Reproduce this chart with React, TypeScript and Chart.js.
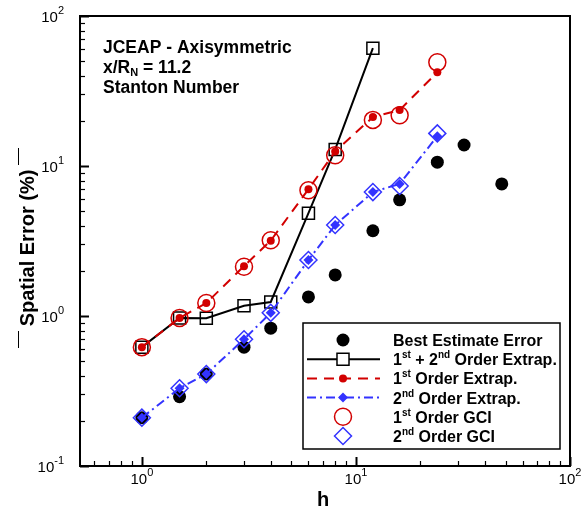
import React, { useEffect, useRef } from 'react';
import { Chart, registerables } from 'chart.js';

Chart.register(...registerables);

// ---------- data ----------
const hBest = [1, 1.5, 2, 3, 4, 6, 8, 12, 16, 24, 32, 48];
const bestEstimateError = [0.21, 0.29, 0.41, 0.62, 0.83, 1.34, 1.88, 3.7, 5.95, 10.6, 13.8, 7.6];

const hCombined = [1, 1.5, 2, 3, 4, 6, 8, 12];
const combinedExtrap = [0.62, 0.97, 0.965, 1.17, 1.24, 4.85, 12.9, 61];

const hOrder = [1, 1.5, 2, 3, 4, 6, 8, 12, 16, 24];
const firstOrderExtrap = [0.62, 0.97, 1.22, 2.15, 3.18, 7.0, 12.5, 21.2, 23.6, 42.2];
const secondOrderExtrap = [0.21, 0.33, 0.41, 0.7, 1.05, 2.36, 4.04, 6.7, 7.6, 15.8];
const firstOrderGCI = [0.62, 0.97, 1.22, 2.13, 3.2, 6.9, 11.8, 20.3, 21.8, 49.1];
const secondOrderGCI = [0.21, 0.33, 0.41, 0.7, 1.05, 2.36, 4.04, 6.7, 7.35, 16.5];

const xTickValues = [1, 10, 100];
const xTickExps = ['0', '1', '2'];
const yTickValues = [0.1, 1, 10, 100];
const yTickExps = ['-1', '0', '1', '2'];

const X_MIN = 0.514;
const X_MAX = 100;
const Y_MIN = 0.1;
const Y_MAX = 100;

// ---------- style ----------
const RED = 'rgb(210,0,0)';
const BLUE = 'rgb(51,51,255)';
const FONT = "'Liberation Sans', Arial, Helvetica, sans-serif";
const RED_DASH = [10, 7];
const BLUE_DASH = [9, 4, 2, 4];

const zip = (xs: number[], ys: number[]) => ys.map((v, i) => ({ x: xs[i], y: v }));

type Seg = { t: string; size: number; dy: number };

function richWidth(ctx: CanvasRenderingContext2D, segs: Seg[], bold: boolean) {
  let w = 0;
  for (const s of segs) {
    ctx.font = `${bold ? 'bold ' : ''}${s.size}px ${FONT}`;
    w += ctx.measureText(s.t).width;
  }
  return w;
}

function drawRich(
  ctx: CanvasRenderingContext2D,
  segs: Seg[],
  x: number,
  y: number,
  align: 'left' | 'center' | 'right',
  bold: boolean
) {
  const w = richWidth(ctx, segs, bold);
  let cx = align === 'left' ? x : align === 'center' ? x - w / 2 : x - w;
  ctx.textAlign = 'left';
  ctx.textBaseline = 'alphabetic';
  for (const s of segs) {
    ctx.font = `${bold ? 'bold ' : ''}${s.size}px ${FONT}`;
    ctx.fillText(s.t, cx, y + s.dy);
    cx += ctx.measureText(s.t).width;
  }
}

function marker(
  ctx: CanvasRenderingContext2D,
  style: string,
  x: number,
  y: number,
  r: number,
  fill: string | null,
  stroke: string | null,
  lw: number
) {
  ctx.beginPath();
  if (style === 'circle') {
    ctx.arc(x, y, r, 0, Math.PI * 2);
  } else if (style === 'rect') {
    const s = Math.SQRT1_2 * r;
    ctx.rect(x - s, y - s, 2 * s, 2 * s);
  } else if (style === 'rectRot') {
    ctx.moveTo(x - r, y);
    ctx.lineTo(x, y - r);
    ctx.lineTo(x + r, y);
    ctx.lineTo(x, y + r);
    ctx.closePath();
  }
  if (fill) {
    ctx.fillStyle = fill;
    ctx.fill();
  }
  if (stroke) {
    ctx.strokeStyle = stroke;
    ctx.lineWidth = lw;
    ctx.setLineDash([]);
    ctx.stroke();
  }
}

const decorPlugin = {
  id: 'decor',
  afterDraw(chart: any) {
    const ctx: CanvasRenderingContext2D = chart.ctx;
    const a = chart.chartArea;
    const xs = chart.scales.x;
    const ys = chart.scales.y;
    ctx.save();
    ctx.fillStyle = '#000';
    ctx.strokeStyle = '#000';

    // ticks
    for (let k = -2; k <= 2; k++) {
      for (let m = 1; m <= 9; m++) {
        const v = m * Math.pow(10, k);
        const major = m === 1;
        const len = major ? 9 : 5;
        ctx.lineWidth = major ? 2 : 1.2;
        if (v >= X_MIN * 0.999 && v <= X_MAX * 1.001) {
          const px = Math.round(xs.getPixelForValue(v)) + 0.5;
          ctx.beginPath();
          ctx.moveTo(px, a.bottom);
          ctx.lineTo(px, a.bottom - len);
          ctx.stroke();
        }
        if (v >= Y_MIN * 0.999 && v <= Y_MAX * 1.001) {
          const py = Math.round(ys.getPixelForValue(v)) + 0.5;
          ctx.beginPath();
          ctx.moveTo(a.left, py);
          ctx.lineTo(a.left + len, py);
          ctx.stroke();
        }
      }
    }

    // frame
    ctx.lineWidth = 2;
    ctx.strokeRect(a.left, a.top, a.right - a.left, a.bottom - a.top);

    // tick labels
    ctx.fillStyle = '#000';
    xTickValues.forEach((v, i) => {
      const px = xs.getPixelForValue(v);
      drawRich(ctx, [{ t: '10', size: 15, dy: 0 }, { t: xTickExps[i], size: 11, dy: -8 }], px, a.bottom + 18, 'center', false);
    });
    yTickValues.forEach((v, i) => {
      const py = ys.getPixelForValue(v);
      drawRich(ctx, [{ t: '10', size: 15, dy: 0 }, { t: yTickExps[i], size: 11, dy: -8 }], a.left - 16, py + 5.5, 'right', false);
    });

    // axis titles
    ctx.font = `bold 20px ${FONT}`;
    ctx.textAlign = 'center';
    ctx.textBaseline = 'alphabetic';
    ctx.fillText('h', 323, 506);

    ctx.save();
    ctx.translate(34, 248);
    ctx.rotate(-Math.PI / 2);
    ctx.font = `bold 20px ${FONT}`;
    ctx.textAlign = 'center';
    ctx.fillText('Spatial Error (%)', 0, 0);
    ctx.restore();
    ctx.lineWidth = 1;
    ctx.beginPath();
    ctx.moveTo(18.5, 148);
    ctx.lineTo(18.5, 165);
    ctx.moveTo(18.5, 331);
    ctx.lineTo(18.5, 348);
    ctx.stroke();

    // annotation
    const A = 17.5;
    drawRich(ctx, [{ t: 'JCEAP - Axisymmetric', size: A, dy: 0 }], 103, 53, 'left', true);
    drawRich(
      ctx,
      [
        { t: 'x/R', size: A, dy: 0 },
        { t: 'N', size: 11, dy: 3 },
        { t: ' = 11.2', size: A, dy: 0 },
      ],
      103,
      73,
      'left',
      true
    );
    drawRich(ctx, [{ t: 'Stanton Number', size: A, dy: 0 }], 103, 93, 'left', true);

    // legend
    const L = { x0: 303, y0: 323, x1: 560, y1: 449 };
    ctx.fillStyle = '#fff';
    ctx.fillRect(L.x0, L.y0, L.x1 - L.x0, L.y1 - L.y0);
    ctx.lineWidth = 1.5;
    ctx.strokeStyle = '#000';
    ctx.strokeRect(L.x0, L.y0, L.x1 - L.x0, L.y1 - L.y0);
    const rowY = [340, 359.2, 378.4, 397.6, 416.8, 436];
    const lx0 = 307;
    const lx1 = 380;
    const mx = 343;
    const tx = 393;
    const line = (y: number, color: string, dash: number[]) => {
      ctx.strokeStyle = color;
      ctx.lineWidth = 2;
      ctx.setLineDash(dash);
      ctx.beginPath();
      ctx.moveTo(lx0, y);
      ctx.lineTo(lx1, y);
      ctx.stroke();
      ctx.setLineDash([]);
    };
    marker(ctx, 'circle', mx, rowY[0], 6.5, '#000', null, 0);
    line(rowY[1], '#000', []);
    marker(ctx, 'rect', mx, rowY[1], 8.5, '#fff', '#000', 1.5);
    line(rowY[2], RED, RED_DASH);
    marker(ctx, 'circle', mx, rowY[2], 4, RED, null, 0);
    line(rowY[3], BLUE, BLUE_DASH);
    marker(ctx, 'rectRot', mx, rowY[3], 5, BLUE, null, 0);
    marker(ctx, 'circle', mx, rowY[4], 8.5, null, RED, 1.5);
    marker(ctx, 'rectRot', mx, rowY[5], 8.5, null, BLUE, 1.5);

    ctx.fillStyle = '#000';
    const B = 16;
    const S = 10;
    const up = -7;
    const lab: Seg[][] = [
      [{ t: 'Best Estimate Error', size: B, dy: 0 }],
      [
        { t: '1', size: B, dy: 0 },
        { t: 'st', size: S, dy: up },
        { t: ' + 2', size: B, dy: 0 },
        { t: 'nd', size: S, dy: up },
        { t: ' Order Extrap.', size: B, dy: 0 },
      ],
      [
        { t: '1', size: B, dy: 0 },
        { t: 'st', size: S, dy: up },
        { t: ' Order Extrap.', size: B, dy: 0 },
      ],
      [
        { t: '2', size: B, dy: 0 },
        { t: 'nd', size: S, dy: up },
        { t: ' Order Extrap.', size: B, dy: 0 },
      ],
      [
        { t: '1', size: B, dy: 0 },
        { t: 'st', size: S, dy: up },
        { t: ' Order GCI', size: B, dy: 0 },
      ],
      [
        { t: '2', size: B, dy: 0 },
        { t: 'nd', size: S, dy: up },
        { t: ' Order GCI', size: B, dy: 0 },
      ],
    ];
    lab.forEach((segs, i) => drawRich(ctx, segs, tx, rowY[i] + 6, 'left', true));

    ctx.restore();
  },
};

export default function App() {
  const ref = useRef<HTMLCanvasElement | null>(null);
  useEffect(() => {
    if (!ref.current) return;
    const chart = new Chart(ref.current, {
      type: 'line',
      data: {
        datasets: [
          {
            label: '2nd Order GCI',
            data: zip(hOrder, secondOrderGCI),
            showLine: false,
            pointStyle: 'rectRot',
            pointRadius: 8.5,
            pointBackgroundColor: 'rgba(0,0,0,0)',
            pointBorderColor: BLUE,
            pointBorderWidth: 1.5,
            borderColor: BLUE,
            order: 1,
          },
          {
            label: '1st Order GCI',
            data: zip(hOrder, firstOrderGCI),
            showLine: false,
            pointStyle: 'circle',
            pointRadius: 8.5,
            pointBackgroundColor: 'rgba(0,0,0,0)',
            pointBorderColor: RED,
            pointBorderWidth: 1.5,
            borderColor: RED,
            order: 2,
          },
          {
            label: '2nd Order Extrap.',
            data: zip(hOrder, secondOrderExtrap),
            showLine: true,
            borderColor: BLUE,
            borderWidth: 2,
            borderDash: BLUE_DASH,
            pointStyle: 'rectRot',
            pointRadius: 5,
            pointBackgroundColor: BLUE,
            pointBorderColor: BLUE,
            pointBorderWidth: 0,
            tension: 0,
            order: 3,
          },
          {
            label: '1st Order Extrap.',
            data: zip(hOrder, firstOrderExtrap),
            showLine: true,
            borderColor: RED,
            borderWidth: 2,
            borderDash: RED_DASH,
            pointStyle: 'circle',
            pointRadius: 4,
            pointBackgroundColor: RED,
            pointBorderColor: RED,
            pointBorderWidth: 0,
            tension: 0,
            order: 4,
          },
          {
            label: '1st + 2nd Order Extrap.',
            data: zip(hCombined, combinedExtrap),
            showLine: true,
            borderColor: '#000',
            borderWidth: 2,
            pointStyle: 'rect',
            pointRadius: 8.5,
            pointBackgroundColor: 'rgba(0,0,0,0)',
            pointBorderColor: '#000',
            pointBorderWidth: 1.5,
            tension: 0,
            order: 5,
          },
          {
            label: 'Best Estimate Error',
            data: zip(hBest, bestEstimateError),
            showLine: false,
            pointStyle: 'circle',
            pointRadius: 6.5,
            pointBackgroundColor: '#000',
            pointBorderColor: '#000',
            pointBorderWidth: 0,
            borderColor: '#000',
            order: 6,
          },
        ],
      },
      options: {
        animation: false,
        responsive: false,
        devicePixelRatio: 1,
        layout: { padding: { left: 80, top: 16, right: 18, bottom: 44 } },
        plugins: {
          legend: { display: false },
          title: { display: false },
          tooltip: { enabled: false },
        },
        events: [],
        scales: {
          x: { type: 'logarithmic', min: X_MIN, max: X_MAX, display: false },
          y: { type: 'logarithmic', min: Y_MIN, max: Y_MAX, display: false },
        },
      },
      plugins: [decorPlugin],
    } as any);
    return () => chart.destroy();
  }, []);

  return (
    <div style={{ position: 'fixed', left: 0, top: 0, width: 588, height: 510, background: '#fff' }}>
      <canvas ref={ref} width={588} height={510} style={{ width: 588, height: 510, display: 'block' }} />
    </div>
  );
}
